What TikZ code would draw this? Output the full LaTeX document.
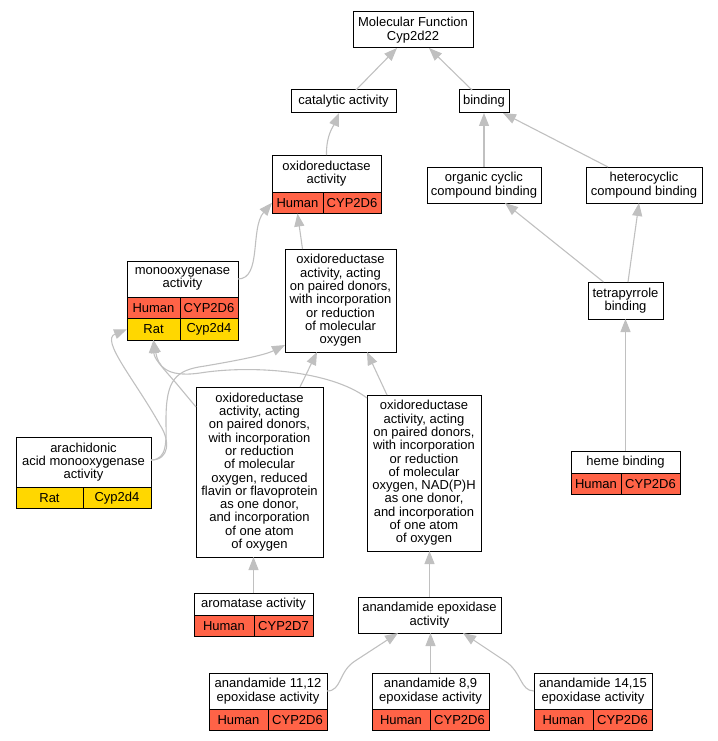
\documentclass[tikz,border=0pt]{standalone}
\usepackage{fontspec}
\setmainfont{Liberation Sans}
\usepackage{tikz}
\usetikzlibrary{calc}
\usetikzlibrary{arrows.meta}
\definecolor{human}{RGB}{255,99,71}
\definecolor{rat}{RGB}{255,215,0}
\definecolor{linkgray}{RGB}{192,192,192}

\begin{document}
\begin{tikzpicture}[x=1pt,y=-1pt,
  term/.style={draw=black, line width=1pt, fill=white, align=center, inner sep=0pt, outer sep=0pt, font=\fontsize{13}{13.3}\selectfont},
  hcell/.style={term, fill=human, anchor=north west, minimum height=21.5},
  rcell/.style={term, fill=rat, anchor=north west, minimum height=21.5},
  link/.style={draw=linkgray, line width=1.1pt, -{Triangle[length=13pt,width=10pt]}}]
\useasboundingbox (0,0) rectangle (717,741);

\node[term, minimum width=120, minimum height=36] (mf) at (413,30) {Molecular Function\\Cyp2d22};
\node[term, minimum width=105, minimum height=23] (cat) at (343.5,101.5) {catalytic activity};
\node[term, minimum width=50, minimum height=23] (bind) at (484,101.5) {binding};
\node[term, minimum width=114, minimum height=36] (org) at (484,185) {organic cyclic\\compound binding};
\node[term, minimum width=116, minimum height=36] (het) at (644,185) {heterocyclic\\compound binding};
\node[term, minimum width=75, minimum height=37] (tetra) at (625.5,300.5) {tetrapyrrole\\binding};

\node[term, minimum width=109, minimum height=37] (oxact) at (326.5,173.5) {oxidoreductase\\activity};
\node[hcell, minimum width=51] (oxact-h) at (oxact.south west) {Human};
\node[hcell, minimum width=58] (oxact-g) at (oxact-h.north east) {CYP2D6};

\node[term, minimum width=111, minimum height=36] (mono) at (182.5,279) {monooxygenase\\activity};
\node[hcell, minimum width=53] (mono-h) at (mono.south west) {Human};
\node[hcell, minimum width=58] (mono-hg) at (mono-h.north east) {CYP2D6};
\node[rcell, minimum width=53] (mono-r) at (mono-h.south west) {Rat};
\node[rcell, minimum width=58] (mono-rg) at (mono-r.north east) {Cyp2d4};

\node[term, minimum width=111, minimum height=103] (oap) at (340.5,300.5) {oxidoreductase\\activity, acting\\on paired donors,\\with incorporation\\or reduction\\of molecular\\oxygen};

\node[term, minimum width=127, minimum height=170] (flav) at (259.5,472) {oxidoreductase\\activity, acting\\on paired donors,\\with incorporation\\or reduction\\of molecular\\oxygen, reduced\\flavin or flavoprotein\\as one donor,\\and incorporation\\of one atom\\of oxygen};
\node[term, minimum width=114, minimum height=156] (nadph) at (424,473) {oxidoreductase\\activity, acting\\on paired donors,\\with incorporation\\or reduction\\of molecular\\oxygen, NAD(P)H\\as one donor,\\and incorporation\\of one atom\\of oxygen};

\node[term, minimum width=135, minimum height=50] (arach) at (83.5,462) {arachidonic\\acid monooxygenase\\activity};
\node[rcell, minimum width=67] (arach-r) at (arach.south west) {Rat};
\node[rcell, minimum width=68] (arach-g) at (arach-r.north east) {Cyp2d4};

\node[term, minimum width=109, minimum height=22] (heme) at (625.5,462) {heme binding};
\node[hcell, minimum width=50] (heme-h) at (heme.south west) {Human};
\node[hcell, minimum width=59] (heme-g) at (heme-h.north east) {CYP2D6};

\node[term, minimum width=119, minimum height=22] (arom) at (253.5,604) {aromatase activity};
\node[hcell, minimum width=60] (arom-h) at (arom.south west) {Human};
\node[hcell, minimum width=59] (arom-g) at (arom-h.north east) {CYP2D7};

\node[term, minimum width=143, minimum height=36] (epox) at (429.5,615) {anandamide epoxidase\\activity};

\node[term, minimum width=118, minimum height=36] (a1112) at (268,691) {anandamide 11,12\\epoxidase activity};
\node[hcell, minimum width=59] (a1112-h) at (a1112.south west) {Human};
\node[hcell, minimum width=59] (a1112-g) at (a1112-h.north east) {CYP2D6};
\node[term, minimum width=117, minimum height=36] (a89) at (430.5,691) {anandamide 8,9\\epoxidase activity};
\node[hcell, minimum width=58] (a89-h) at (a89.south west) {Human};
\node[hcell, minimum width=59] (a89-g) at (a89-h.north east) {CYP2D6};
\node[term, minimum width=118, minimum height=36] (a1415) at (593,691) {anandamide 14,15\\epoxidase activity};
\node[hcell, minimum width=59] (a1415-h) at (a1415.south west) {Human};
\node[hcell, minimum width=59] (a1415-g) at (a1415-h.north east) {CYP2D6};

\draw[link] ($(cat.north)+(12.5,0)$) -- ($(mf.south)+(-16,0)$);
\draw[link] ($(bind.north)+(-12,0)$) -- ($(mf.south)+(16,0)$);
\draw[link] (oxact.north) .. controls (326,135) and (334,125) .. ($(cat.south)+(-4.5,0)$);
\draw[link] (org.north) -- (bind.south);
\draw[link] ($(het.north)+(-36,0)$) -- ($(bind.south east)+(-6,0)$);
\draw[link] (mono.east) .. controls (262,279) and (250,228) .. (oxact-h.west);
\draw[link] ($(oap.north)+(-38,0)$) -- (oxact-h.south);
\draw[link] ($(tetra.north)+(-22,0)$) -- ($(org.south)+(21,0)$);
\draw[link] ($(tetra.north)+(2.5,0)$) -- ($(het.south)+(-5,0)$);
\draw[link] (heme.north) -- (tetra.south);

\draw[link] ($(arach.east)+(0,-2)$) .. controls (170,460) and (170,440) .. (160,425) .. controls (135,380) and (100,340) .. (mono-r.west);
\draw[link] ($(arach.east)+(0,-2)$) .. controls (168,460) and (166,440) .. (166,420) .. controls (166,380) and (175,370) .. (205,366) .. controls (240,360) and (265,355) .. ($(oap.south west)+(0,-7)$);
\draw[link] ($(flav.north)+(40.5,0)$) -- ($(oap.south)+(-23.5,0)$);
\draw[link] ($(flav.north west)+(0,20)$) -- (176,383) .. controls (160,365) and (154,358) .. (mono-r.south);
\draw[link] ($(nadph.north)+(-37,0)$) -- ($(oap.south)+(26.5,0)$);
\draw[link] ($(nadph.north west)+(0,3)$) .. controls (330,370) and (250,365) .. (200,373) .. controls (165,378) and (158,365) .. (mono-r.south);

\draw[link] (arom.north) -- (arom.north |- flav.south);
\draw[link] (epox.north) -- (epox.north |- nadph.south);
\draw[link] (a1112.east) .. controls (342,691) and (338,672) .. (355,661) -- ($(epox.south)+(-31.5,0)$);
\draw[link] (a89.north) -- (a89.north |- epox.south);
\draw[link] (a1415.west) .. controls (520,691) and (522,672) .. (505,661) -- ($(epox.south)+(33.5,0)$);
\end{tikzpicture}
\end{document}
